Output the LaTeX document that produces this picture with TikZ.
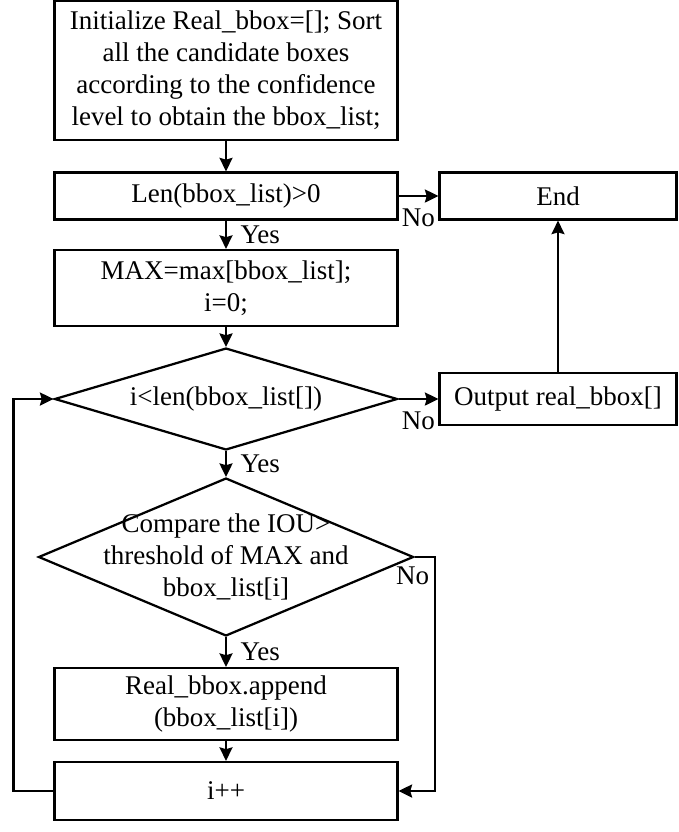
\documentclass[tikz,border=0pt]{standalone}
\usepackage{fontspec}
\setmainfont{Liberation Serif}
\usetikzlibrary{arrows.meta,shapes.geometric}
\tikzset{
  txt/.style    ={font=\fontsize{12pt}{14.2pt}\selectfont},
  proc/.style   ={txt, rectangle, draw, line width=1pt, inner sep=0pt,
                  minimum width=152.4pt, align=center},
  decide/.style ={txt, diamond, draw, line width=1pt, inner sep=0pt,
                  align=center},
  flow/.style   ={draw, line width=1pt,
                  -{Stealth[length=6pt,width=5.8pt,inset=0.8pt]}},
  yes/.style    ={txt, right, inner sep=6pt},
  no/.style     ={txt, below, inner sep=5pt},
}

\begin{document}
\begin{tikzpicture}[x=0.4444pt, y=-0.4444pt]
\useasboundingbox (0,0) rectangle (678,832);
% main column
\node[proc, minimum height=61.8pt] (init) at (226,70.5)
  {Initialize Real\_bbox=[]; Sort\\all the candidate boxes\\according to the confidence\\level to obtain the bbox\_list;};
\node[proc, minimum height=20.9pt] (len) at (226,196) {Len(bbox\_list)>0};
\node[proc, minimum height=33.8pt] (maxb) at (226,288) {MAX=max[bbox\_list];\\i=0;};
\node[decide, minimum width=152.4pt, minimum height=45.3pt, aspect=3.36] (cmp1) at (226,399)
  {i<len(bbox\_list[])};
\node[decide, minimum width=166.7pt, minimum height=70.2pt, aspect=2.37,
      label={[txt, align=center]center:{Compare the IOU>\\threshold of MAX and\\bbox\_list[i]}}] (cmp2) at (226,557) {};
\node[proc, minimum height=32pt] (app) at (226,704) {Real\_bbox.append\\(bbox\_list[i])};
\node[proc, minimum height=25.8pt] (inc) at (226,791) {i++};
% right column
\node[proc, minimum width=105.3pt, minimum height=20.9pt] (endb) at (558,196) {End};
\node[proc, minimum width=105.3pt, minimum height=23.1pt] (outb) at (558,399) {Output real\_bbox[]};

\draw[flow] (init) -- (len);
\draw[flow] (len) -- node[yes]{Yes} (maxb);
\draw[flow] (len) -- node[no]{No} (endb);
\draw[flow] (maxb) -- (cmp1);
\draw[flow] (cmp1) -- node[no]{No} (outb);
\draw[flow] (cmp1) -- node[yes]{Yes} (cmp2);
\draw[flow] (outb) -- (endb);
\draw[flow] (cmp2) -- node[yes]{Yes} (app);
\draw[flow] (app) -- (inc);
\draw[flow] (cmp2.east) -- ++(20,0) coordinate (cmpno)
  node[txt, below left, inner sep=2pt, yshift=-2pt]{No} |- (inc.east);
\draw[flow] (inc.west) -- ++(-40,0) |- (cmp1.west);
\end{tikzpicture}
\end{document}
